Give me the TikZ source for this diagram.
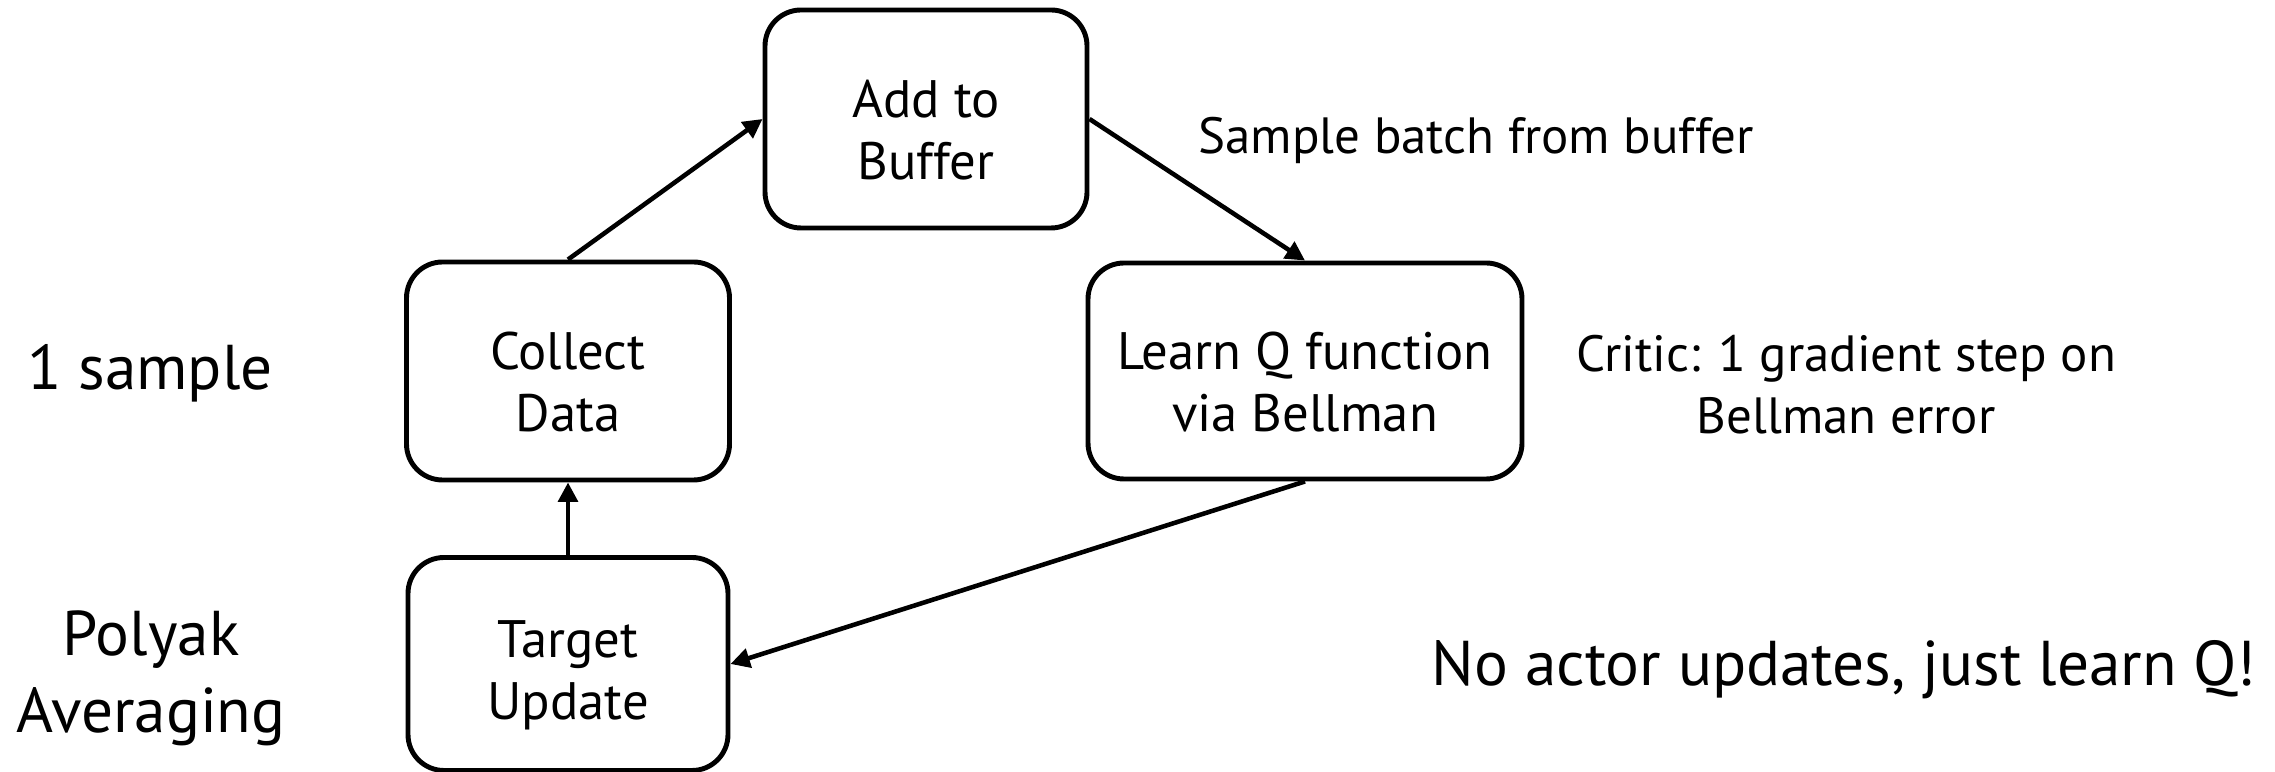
\documentclass[tikz,border=0pt]{standalone}
\usepackage{fontspec}
\setmainfont{PT Sans}
\usetikzlibrary{arrows.meta}

\newcommand{\topgap}{\rule{0pt}{17pt}}

\begin{document}
\begin{tikzpicture}[>={Triangle[length=5.5pt,width=5.5pt]}]

\tikzset{
  box/.style={draw, line width=1.4pt, rounded corners=0.36cm, align=center,
    font=\fontsize{15}{17.6}\selectfont},
  arr/.style={->, line width=1.3pt},
  side/.style={align=center, font=\fontsize{18}{22}\selectfont},
  note/.style={align=center, font=\fontsize{14.5}{17.6}\selectfont}
}

\useasboundingbox (0,0) rectangle (22.75,-7.72);

% --- Caixas do ciclo ---
\node[box, minimum width=3.22cm, minimum height=2.18cm] (buffer) at (9.26,-1.19) {\topgap Add to\\Buffer};
\node[box, minimum width=3.23cm, minimum height=2.18cm] (collect) at (5.68,-3.71) {\topgap Collect\\Data};
\node[box, minimum width=4.34cm, minimum height=2.16cm] (learnq) at (13.05,-3.71) {\topgap Learn Q function\\via Bellman};
\node[box, minimum width=3.20cm, minimum height=2.13cm] (target) at (5.68,-6.64) {\topgap Target\\Update};

% --- Textos laterais ---
\node[side] (onesample) at (1.50,-3.73) {1 sample};
\node[side] (polyak) at (1.51,-6.78) {Polyak\\Averaging};
\node[note, anchor=west] (batch) at (11.86,-1.40) {Sample batch from buffer};
\node[note] (critic) at (18.46,-3.85) {Critic: 1 gradient step on\\Bellman error};
\node[side] (noactor) at (18.44,-6.70) {No actor updates, just learn Q!};

% --- Setas ---
\draw[arr] (collect.north) -- (buffer.west);
\draw[arr] (buffer.east) -- (learnq.north);
\draw[arr] (learnq.south) -- (target.east);
\draw[arr] (target.north) -- (collect.south);

\end{tikzpicture}
\end{document}
